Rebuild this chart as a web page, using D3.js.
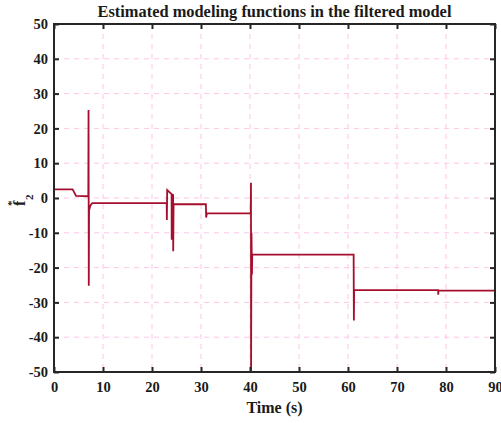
<!DOCTYPE html>
<html>
<head>
<meta charset="utf-8">
<script src="https://cdn.jsdelivr.net/npm/d3@7"></script>
<style>
  html, body { margin: 0; padding: 0; background: #fff; }
  svg { display: block; }
  text { font-family: "Liberation Serif", "Times New Roman", serif; font-weight: bold; fill: #1a1a1a; }
</style>
</head>
<body>
<svg id="chart" width="501" height="423"></svg>
<script>
// Estimated modeling function f2* over time (step-like signal with transients)
const times  = [0, 3.8, 4.5, 7.0, 7.05, 7.1, 7.15, 7.4, 7.8,
                23.0, 23.03, 23.1, 24.0, 24.02, 24.1, 24.3, 24.33, 24.4,
                31.0, 31.05, 31.2, 40.15, 40.2, 40.22, 40.3, 40.4, 40.45, 40.5,
                61.15, 61.2, 61.25, 78.4, 78.42, 78.45, 90];
const values = [2.5, 2.5, 0.6, 0.5, 25.3, -25.2, -3.6, -2.2, -1.5,
                -1.5, -6.3, 2.3, 1.1, -12, 1.0, 0.9, -15.3, -1.8,
                -1.8, -5.6, -4.4, -4.4, 4.4, -50, -10, -22, -16.3, -16.3,
                -16.3, -35.2, -26.5, -26.5, -27.8, -26.6, -26.6];

const xTicks = [0, 10, 20, 30, 40, 50, 60, 70, 80, 90];
const yTicks = [-50, -40, -30, -20, -10, 0, 10, 20, 30, 40, 50];

const titleText = "Estimated modeling functions in the filtered model";
const xLabel = "Time (s)";

const svg = d3.select("#chart");
const plotL = 54, plotR = 495, plotT = 24, plotB = 372;

const x = d3.scaleLinear().domain([0, 90]).range([plotL, plotR]);
const y = d3.scaleLinear().domain([-50, 50]).range([plotB, plotT]);

// dashed grid
const grid = svg.append("g").attr("stroke", "#ffc6e4").attr("stroke-width", 1)
  .attr("stroke-dasharray", "5,5");
grid.selectAll("line.vx").data(xTicks.slice(1, -1)).join("line")
  .attr("x1", d => x(d)).attr("x2", d => x(d)).attr("y1", plotT).attr("y2", plotB);
grid.selectAll("line.hy").data(yTicks.slice(1, -1)).join("line")
  .attr("x1", plotL).attr("x2", plotR).attr("y1", d => y(d)).attr("y2", d => y(d));

// data line
const pts = times.map((t, i) => [t, values[i]]);
svg.append("path")
  .datum(pts)
  .attr("fill", "none")
  .attr("stroke", "#a50f2d")
  .attr("stroke-width", 1.8)
  .attr("stroke-linejoin", "miter")
  .attr("d", d3.line().x(d => x(d[0])).y(d => y(d[1])));

// axes (inward ticks on all four sides), plain hyphen for negatives
const fmt = d => String(d);
const tickLen = 5;
svg.append("g").attr("transform", `translate(0,${plotB})`)
  .call(d3.axisBottom(x).tickValues(xTicks).tickFormat(fmt).tickSizeInner(-tickLen).tickSizeOuter(0).tickPadding(10))
  .call(g => g.select(".domain").remove());
svg.append("g").attr("transform", `translate(0,${plotT})`)
  .call(d3.axisTop(x).tickValues(xTicks).tickSizeInner(-tickLen).tickSizeOuter(0).tickFormat(""))
  .call(g => g.select(".domain").remove());
svg.append("g").attr("transform", `translate(${plotL},0)`)
  .call(d3.axisLeft(y).tickValues(yTicks).tickFormat(fmt).tickSizeInner(-tickLen).tickSizeOuter(0).tickPadding(6))
  .call(g => g.select(".domain").remove());
svg.append("g").attr("transform", `translate(${plotR},0)`)
  .call(d3.axisRight(y).tickValues(yTicks).tickSizeInner(-tickLen).tickSizeOuter(0).tickFormat(""))
  .call(g => g.select(".domain").remove());

svg.selectAll(".tick line").attr("stroke", "#262626").attr("stroke-width", 2);
svg.selectAll(".tick text")
  .attr("font-family", "'Liberation Serif', 'Times New Roman', serif")
  .attr("font-weight", "bold")
  .attr("font-size", 14.5)
  .attr("fill", "#1a1a1a");

// frame
svg.append("rect")
  .attr("x", plotL).attr("y", plotT).attr("width", plotR - plotL).attr("height", plotB - plotT)
  .attr("fill", "none").attr("stroke", "#262626").attr("stroke-width", 2);

// title
svg.append("text")
  .attr("x", (plotL + plotR) / 2).attr("y", 17)
  .attr("text-anchor", "middle").attr("font-size", 16.4)
  .text(titleText);

// x label
svg.append("text")
  .attr("x", (plotL + plotR) / 2).attr("y", 413)
  .attr("text-anchor", "middle").attr("font-size", 16)
  .text(xLabel);

// y label: f with superscript * and subscript 2
const yl = svg.append("g").attr("transform", "translate(25,206) rotate(-90)");
yl.append("text").attr("x", 0).attr("y", 0).attr("font-size", 16).text("f");
yl.append("text").attr("x", 0).attr("y", -10).attr("font-size", 11).text("*");
yl.append("text").attr("x", 6).attr("y", 8).attr("font-size", 11).text("2");
</script>
</body>
</html>
